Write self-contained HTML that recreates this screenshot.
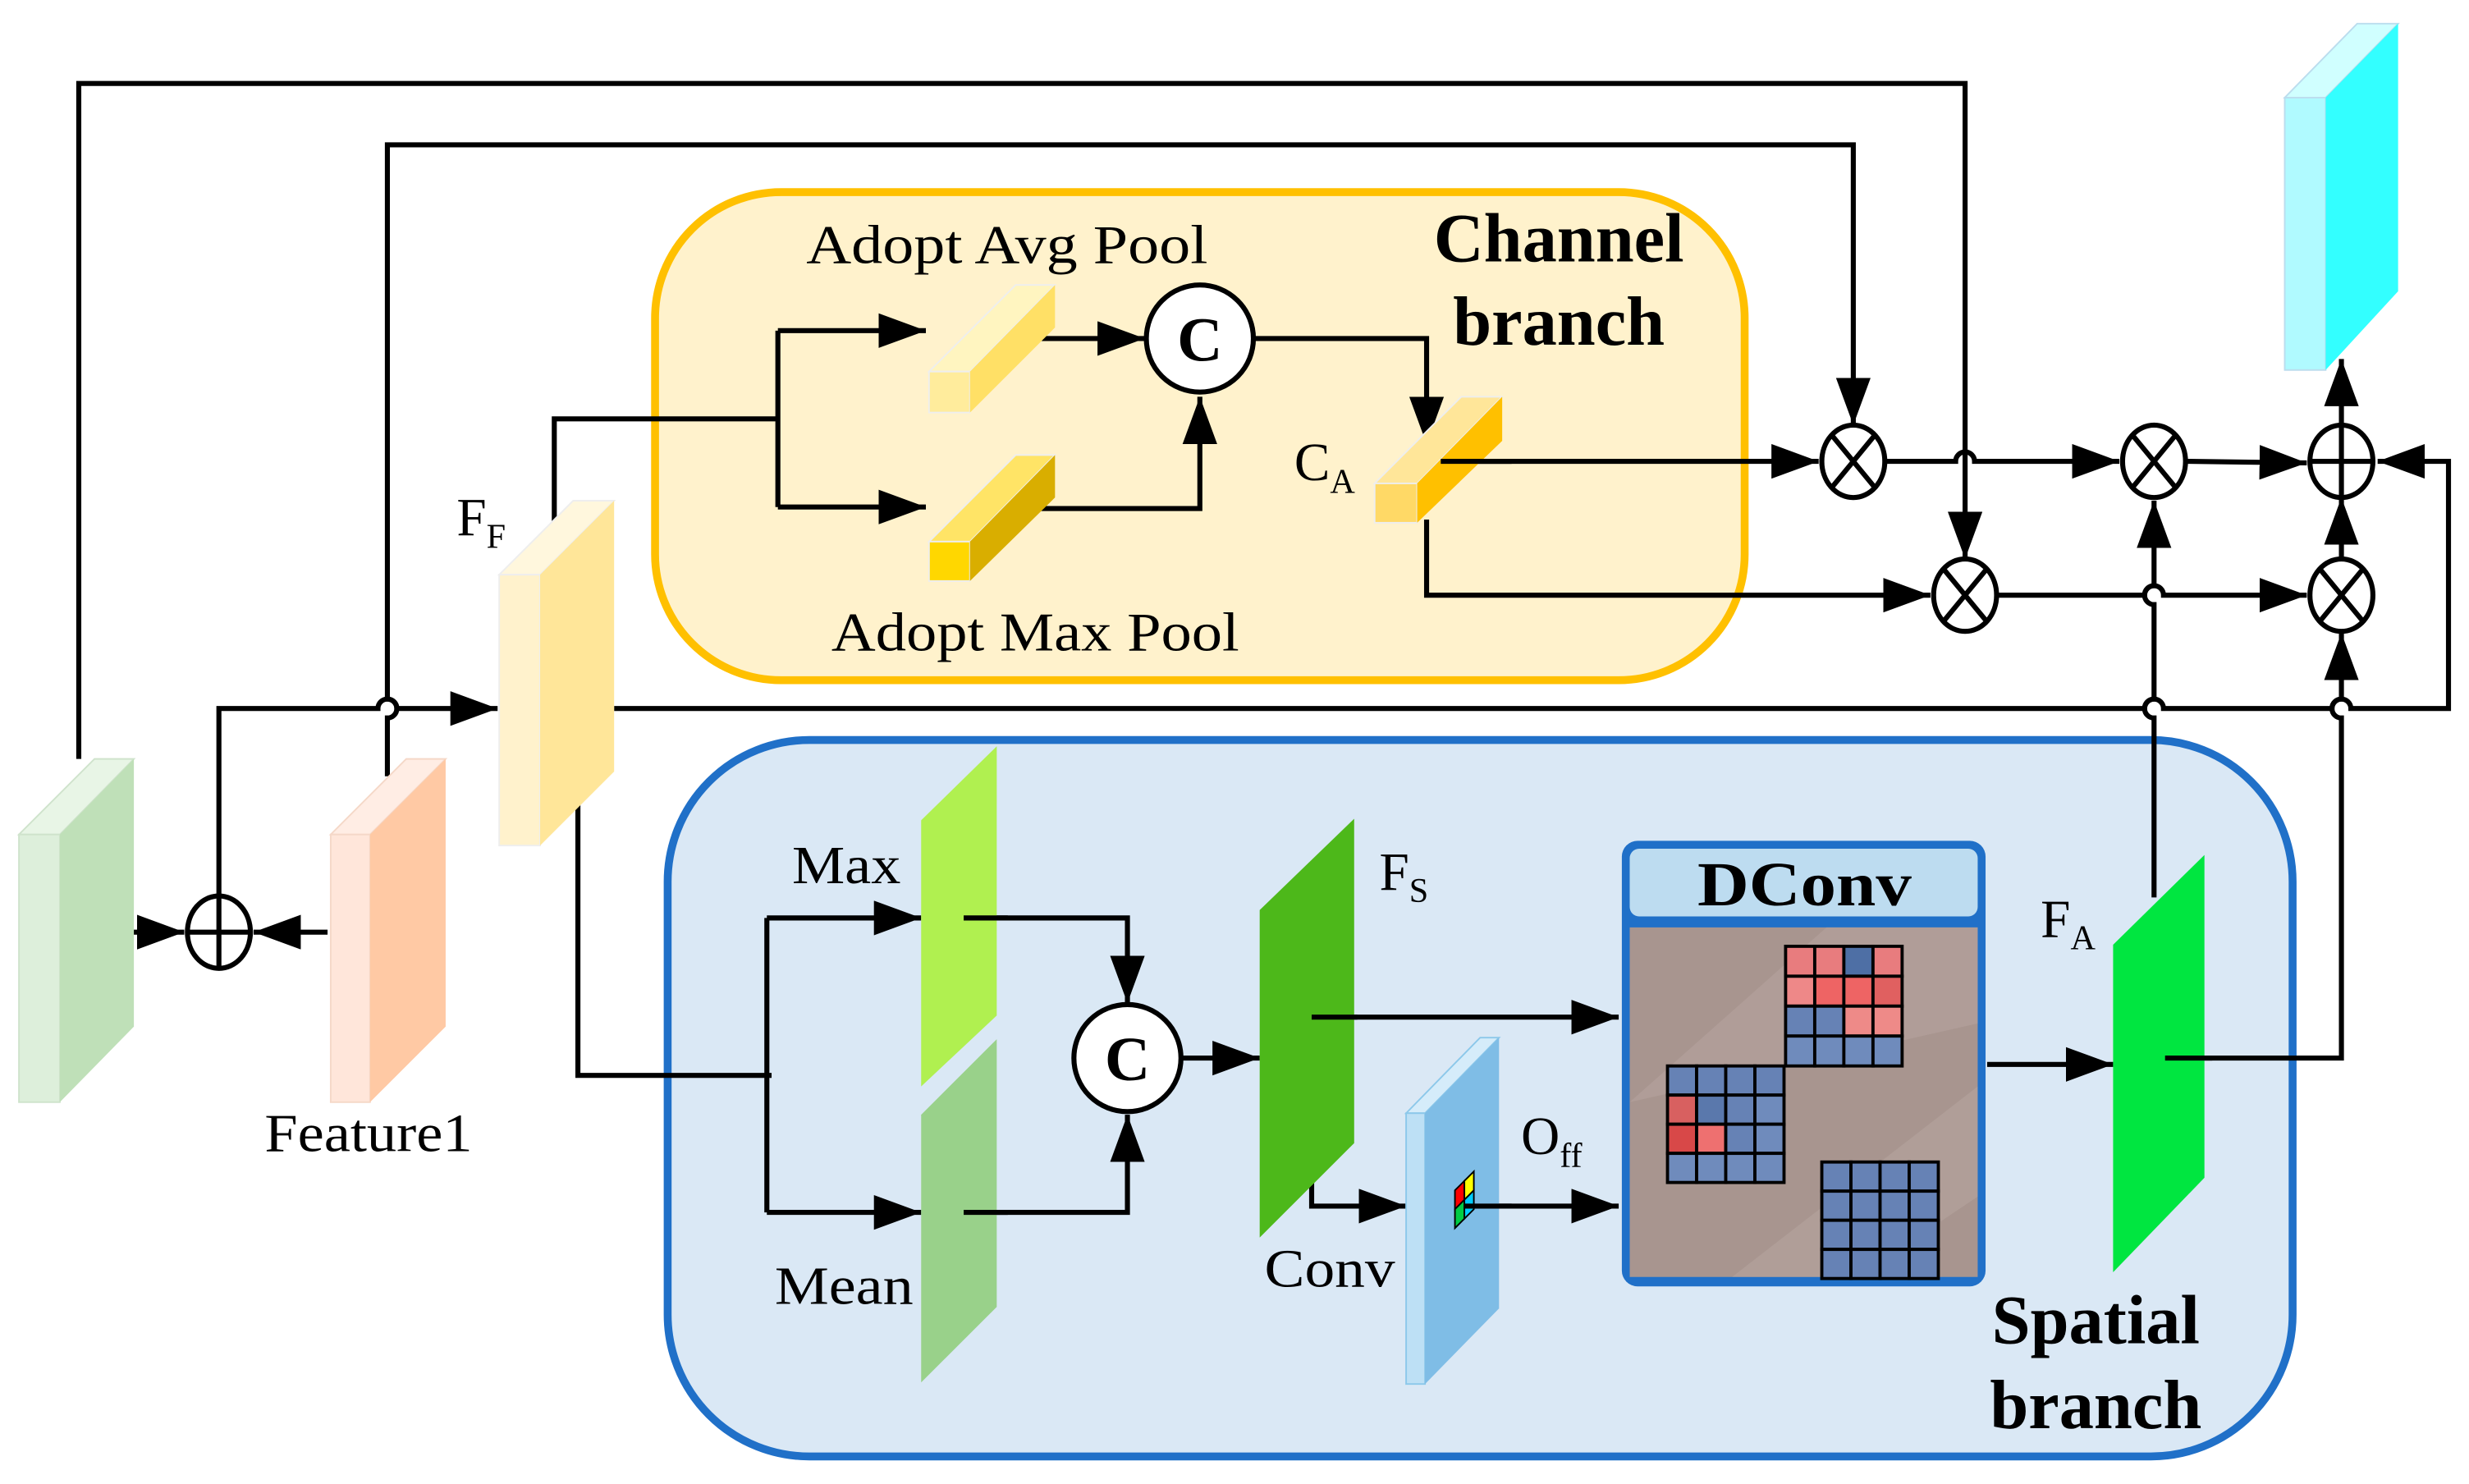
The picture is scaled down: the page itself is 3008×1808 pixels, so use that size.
<!DOCTYPE html>
<html><head><meta charset="utf-8"><style>
html,body{margin:0;padding:0;background:#fff;}
svg{display:block;}
text{font-family:"Liberation Serif",serif;fill:#000;}
</style></head><body>
<svg width="3008" height="1808" viewBox="0 0 1568 942.5" xmlns="http://www.w3.org/2000/svg">
<defs>
<marker id="a" markerUnits="userSpaceOnUse" markerWidth="34" markerHeight="26" refX="30" refY="11" orient="auto">
<path d="M0,0 L30,11 L0,22 Z" fill="#000"/>
</marker>
</defs>
<rect width="1568" height="942.5" fill="#fff"/>

<rect x="416" y="122" width="692" height="310" rx="80" fill="#FFF2CC" stroke="#FFC000" stroke-width="5"/>
<rect x="424" y="470" width="1032" height="455" rx="90" fill="#DAE8F5" stroke="#2070C8" stroke-width="5"/>

<g fill="none" stroke="#000" stroke-width="3.2">
<path d="M50,482 V53 H1248 V355" marker-end="url(#a)"/>
<path d="M246,493 V456 a6,6 0 0 0 0,-12 V92 H1177 V270" marker-end="url(#a)"/>
<path d="M139,572 V450 H240 a6,6 0 0 1 12,0 H316" marker-end="url(#a)"/>
<path d="M352,343 V266 H494"/>
<path d="M494,210 V322"/>
<path d="M494,210 H588" marker-end="url(#a)"/>
<path d="M494,322 H588" marker-end="url(#a)"/>
<path d="M648,215 H727" marker-end="url(#a)"/>
<path d="M648,323 H762 V252" marker-end="url(#a)"/>
<path d="M797,215 H906 V282" marker-end="url(#a)"/>
<path d="M915,293 H1155" marker-end="url(#a)"/>
<path d="M906,330 V378 H1226" marker-end="url(#a)"/>
<path d="M1198,293 H1242 a6,6 0 0 1 12,0 H1346" marker-end="url(#a)"/>
<path d="M1269,378 H1362 a6,6 0 0 1 12,0 H1465" marker-end="url(#a)"/>
<path d="M1389,293 L1465,294" marker-end="url(#a)"/>
<path d="M1487,356 V316" marker-end="url(#a)"/>
<path d="M1487,270 V228" marker-end="url(#a)"/>
<path d="M390,450 H1362 a6,6 0 0 1 12,0 H1481 a6,6 0 0 1 12,0 H1555 V293 H1510" marker-end="url(#a)"/>
<path d="M1368,570 V456 a6,6 0 0 1 0,-12 V384 a6,6 0 0 1 0,-12 V318" marker-end="url(#a)"/>
<path d="M1375,672 H1487 V456 a6,6 0 0 1 0,-12 V402" marker-end="url(#a)"/>
<path d="M55,592 H117" marker-end="url(#a)"/>
<path d="M208,592 H161" marker-end="url(#a)"/>
<path d="M367,510 V683 H490"/>
<path d="M487,583 V770"/>
<path d="M487,583 H585" marker-end="url(#a)"/>
<path d="M487,770 H585" marker-end="url(#a)"/>
<path d="M612,583 H716 V637" marker-end="url(#a)"/>
<path d="M612,770 H716 V708" marker-end="url(#a)"/>
<path d="M750,672 H800" marker-end="url(#a)"/>
<path d="M833,646 H1028" marker-end="url(#a)"/>
<path d="M833,750 V766 H893" marker-end="url(#a)"/>
<path d="M930,766 H1028" marker-end="url(#a)"/>
<path d="M1262,676 H1342" marker-end="url(#a)"/>
</g>

<polygon points="12,530 38,530 85,482 60,482" fill="#E8F5E6" stroke="#cfe3cc"/>
<rect x="12" y="530" width="26" height="170" fill="#DDEFDB" stroke="#cfe3cc"/>
<polygon points="38,530 85,482 85,652 38,700" fill="#BFE0B8"/>
<polygon points="210,530 235,530 283,482 258,482" fill="#FFEDE4" stroke="#f5d8c8"/>
<rect x="210" y="530" width="25" height="170" fill="#FFE6DA" stroke="#f5d8c8"/>
<polygon points="235,530 283,482 283,652 235,700" fill="#FFC9A4"/>
<polygon points="317,365 343,365 390,318 364,318" fill="#FFF7DD" stroke="#eee"/>
<rect x="317" y="365" width="26" height="172" fill="#FFF2CC" stroke="#eee"/>
<polygon points="343,365 390,318 390,490 343,537" fill="#FFE699"/>
<polygon points="1451,62 1477,62 1523,15 1497,15" fill="#D0FFFF" stroke="#bde"/>
<rect x="1451" y="62" width="26" height="173" fill="#B0FAFF" stroke="#bde"/>
<polygon points="1477,62 1523,15 1523,185 1477,235" fill="#33FFFF"/>

<polygon points="590,236 616,236 670,181 645,181" fill="#FFF5C0" stroke="#eee"/>
<rect x="590" y="236" width="26" height="26" fill="#FFEC9C" stroke="#eee"/>
<polygon points="616,236 670,181 670,208 616,262" fill="#FFE066"/>
<polygon points="590,344 616,344 670,289 645,289" fill="#FFE466" stroke="#eee"/>
<rect x="590" y="344" width="26" height="25" fill="#FFD700" stroke="#eee"/>
<polygon points="616,344 670,289 670,316 616,369" fill="#D9AE00"/>
<polygon points="873,307 900,307 954,252 928,252" fill="#FFE699" stroke="#eee"/>
<rect x="873" y="307" width="27" height="25" fill="#FFD966" stroke="#eee"/>
<polygon points="900,307 954,252 954,280 900,332" fill="#FFC000"/>
<path d="M915,293 H960" stroke="#000" stroke-width="3.2"/>

<polygon points="585,521 633,474 633,645 585,690" fill="#B0F050"/>
<polygon points="585,708 633,660 633,830 585,878" fill="#99D18A"/>
<polygon points="800,578 860,520 860,726 800,786" fill="#4DB81A"/>
<polygon points="893,707 905,707 952,659 940,659" fill="#D5ECFA" stroke="#8cc8ea"/>
<rect x="893" y="707" width="12" height="172" fill="#BDE0F5" stroke="#8cc8ea"/>
<polygon points="905,707 952,659 952,831 905,879" fill="#7FBDE6"/>
<polygon points="1342,600 1400,543 1400,748 1342,808" fill="#00E640"/>
<g stroke="#000" stroke-width="1">
<polygon points="924,756 930,750 930,762 924,768" fill="#f00"/>
<polygon points="930,750 936,744 936,756 930,762" fill="#ff0"/>
<polygon points="924,768 930,762 930,774 924,780" fill="#0c4"/>
<polygon points="930,762 936,756 936,768 930,774" fill="#0cf"/>
</g>
<path d="M930,766 H960" stroke="#000" stroke-width="3.2"/>
<path d="M612,583 H640 M612,770 H640 M833,646 H862 M1375,672 H1405" stroke="#000" stroke-width="3.2"/>

<rect x="1030" y="534" width="231" height="283" rx="10" fill="#2070C8"/>
<rect x="1035" y="539" width="221" height="43" rx="6" fill="#BDDCF0"/>
<rect x="1035" y="589" width="221" height="222" fill="#A8958F"/>
<path d="M1035,700 L1160,589 L1256,589 L1256,650 Z" fill="#B5A49E" opacity="0.6"/>
<path d="M1100,811 L1256,690 L1256,760 L1180,811 Z" fill="#B8A7A2" opacity="0.5"/>
<text x="1146" y="575" font-size="40" font-weight="bold" text-anchor="middle" textLength="136" lengthAdjust="spacingAndGlyphs">DConv</text>
<g stroke="#000" stroke-width="2">
<rect x="1134" y="601" width="18.5" height="19" fill="#E87C7E"/><rect x="1152.5" y="601" width="18.5" height="19" fill="#E87C7E"/><rect x="1171" y="601" width="18.5" height="19" fill="#4E6FA5"/><rect x="1189.5" y="601" width="18.5" height="19" fill="#E87C7E"/>
<rect x="1134" y="620" width="18.5" height="19" fill="#EE8888"/><rect x="1152.5" y="620" width="18.5" height="19" fill="#EE6464"/><rect x="1171" y="620" width="18.5" height="19" fill="#EE6464"/><rect x="1189.5" y="620" width="18.5" height="19" fill="#E06060"/>
<rect x="1134" y="639" width="18.5" height="19" fill="#6682B5"/><rect x="1152.5" y="639" width="18.5" height="19" fill="#6682B5"/><rect x="1171" y="639" width="18.5" height="19" fill="#EE8A88"/><rect x="1189.5" y="639" width="18.5" height="19" fill="#EE8A88"/>
<rect x="1134" y="658" width="18.5" height="19" fill="#6F8BBC"/><rect x="1152.5" y="658" width="18.5" height="19" fill="#6F8BBC"/><rect x="1171" y="658" width="18.5" height="19" fill="#6F8BBC"/><rect x="1189.5" y="658" width="18.5" height="19" fill="#6F8BBC"/>
<rect x="1059" y="677" width="18.5" height="18.5" fill="#6682B5"/><rect x="1077.5" y="677" width="18.5" height="18.5" fill="#6682B5"/><rect x="1096" y="677" width="18.5" height="18.5" fill="#6682B5"/><rect x="1114.5" y="677" width="18.5" height="18.5" fill="#6682B5"/>
<rect x="1059" y="695.5" width="18.5" height="18.5" fill="#D86060"/><rect x="1077.5" y="695.5" width="18.5" height="18.5" fill="#5A78AC"/><rect x="1096" y="695.5" width="18.5" height="18.5" fill="#6682B5"/><rect x="1114.5" y="695.5" width="18.5" height="18.5" fill="#6F8BBC"/>
<rect x="1059" y="714" width="18.5" height="18.5" fill="#D84848"/><rect x="1077.5" y="714" width="18.5" height="18.5" fill="#EE7070"/><rect x="1096" y="714" width="18.5" height="18.5" fill="#6682B5"/><rect x="1114.5" y="714" width="18.5" height="18.5" fill="#6F8BBC"/>
<rect x="1059" y="732.5" width="18.5" height="18.5" fill="#6F8BBC"/><rect x="1077.5" y="732.5" width="18.5" height="18.5" fill="#6F8BBC"/><rect x="1096" y="732.5" width="18.5" height="18.5" fill="#6F8BBC"/><rect x="1114.5" y="732.5" width="18.5" height="18.5" fill="#6F8BBC"/>
</g>
<g stroke="#000" stroke-width="2" fill="#6682B5">
<rect x="1157" y="738" width="18.5" height="18.5"/><rect x="1175.5" y="738" width="18.5" height="18.5"/><rect x="1194" y="738" width="18.5" height="18.5"/><rect x="1212.5" y="738" width="18.5" height="18.5"/>
<rect x="1157" y="756.5" width="18.5" height="18.5"/><rect x="1175.5" y="756.5" width="18.5" height="18.5"/><rect x="1194" y="756.5" width="18.5" height="18.5"/><rect x="1212.5" y="756.5" width="18.5" height="18.5"/>
<rect x="1157" y="775" width="18.5" height="18.5"/><rect x="1175.5" y="775" width="18.5" height="18.5"/><rect x="1194" y="775" width="18.5" height="18.5"/><rect x="1212.5" y="775" width="18.5" height="18.5"/>
<rect x="1157" y="793.5" width="18.5" height="18.5"/><rect x="1175.5" y="793.5" width="18.5" height="18.5"/><rect x="1194" y="793.5" width="18.5" height="18.5"/><rect x="1212.5" y="793.5" width="18.5" height="18.5"/>
</g>

<g fill="#fff" stroke="#000" stroke-width="3.2">
<circle cx="762" cy="215" r="34"/>
<circle cx="716" cy="672" r="34"/>
<ellipse cx="139" cy="592" rx="20" ry="23"/>
<ellipse cx="1487" cy="293" rx="20" ry="23"/>
<ellipse cx="1177" cy="293" rx="20" ry="23"/>
<ellipse cx="1248" cy="378" rx="20" ry="23"/>
<ellipse cx="1368" cy="293" rx="20" ry="23"/>
<ellipse cx="1487" cy="378" rx="20" ry="23"/>
</g>
<g stroke="#000" stroke-width="3.2">
<path d="M119,592 H159 M139,569 V615"/>
<path d="M1467,293 H1507 M1487,270 V316"/>
<path d="M1163,276 L1191,310 M1191,276 L1163,310"/>
<path d="M1234,361 L1262,395 M1262,361 L1234,395"/>
<path d="M1354,276 L1382,310 M1382,276 L1354,310"/>
<path d="M1473,361 L1501,395 M1501,361 L1473,395"/>
</g>
<text x="762" y="229" font-size="40" font-weight="bold" text-anchor="middle">C</text>
<text x="716" y="686" font-size="40" font-weight="bold" text-anchor="middle">C</text>

<text x="512" y="167" font-size="35" textLength="255" lengthAdjust="spacingAndGlyphs">Adopt Avg Pool</text>
<text x="528" y="413" font-size="35" textLength="259" lengthAdjust="spacingAndGlyphs">Adopt Max Pool</text>
<text x="990" y="166" font-size="44" font-weight="bold" text-anchor="middle">Channel</text>
<text x="990" y="219" font-size="44" font-weight="bold" text-anchor="middle">branch</text>
<text x="1331" y="853" font-size="44" font-weight="bold" text-anchor="middle">Spatial</text>
<text x="1331" y="907" font-size="44" font-weight="bold" text-anchor="middle">branch</text>
<text x="290" y="340" font-size="34">F<tspan font-size="22" dy="8">F</tspan></text>
<text x="822" y="305" font-size="34">C<tspan font-size="22" dy="8">A</tspan></text>
<text x="168" y="731" font-size="34" textLength="132" lengthAdjust="spacingAndGlyphs">Feature1</text>
<text x="503" y="561" font-size="34" textLength="69" lengthAdjust="spacingAndGlyphs">Max</text>
<text x="492" y="828" font-size="34" textLength="88" lengthAdjust="spacingAndGlyphs">Mean</text>
<text x="803" y="817" font-size="34" textLength="83" lengthAdjust="spacingAndGlyphs">Conv</text>
<text x="876" y="565" font-size="34">F<tspan font-size="22" dy="8">S</tspan></text>
<text x="1296" y="595" font-size="34">F<tspan font-size="22" dy="8">A</tspan></text>
<text x="966" y="733" font-size="34">O<tspan font-size="22" dy="8">ff</tspan></text>
</svg>
</body></html>
